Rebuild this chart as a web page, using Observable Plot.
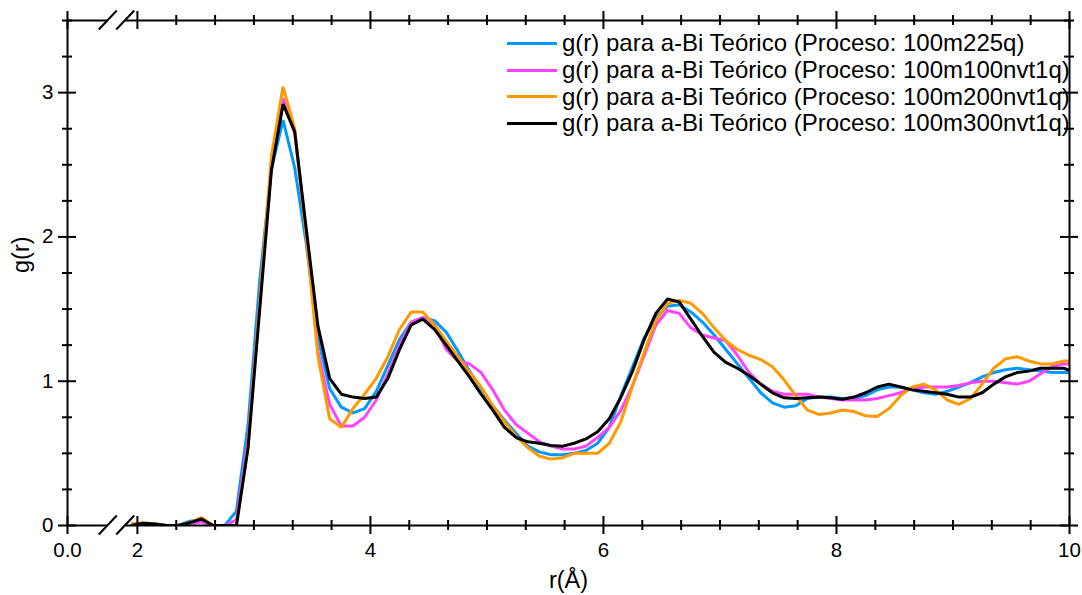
<!DOCTYPE html>
<html><head><meta charset="utf-8">
<script src="https://cdn.jsdelivr.net/npm/d3@7"></script>
<script src="https://cdn.jsdelivr.net/npm/@observablehq/plot@0.6"></script>
<style>
html,body{margin:0;padding:0;background:#fff;}
#wrap{position:relative;width:1082px;height:595px;font-family:"Liberation Sans",Arial,sans-serif;}
#legend{position:absolute;left:507px;top:30px;}
.row{display:flex;align-items:center;height:26.8px;}
.sw{width:50px;height:3px;margin-right:5px;}
.lab{font-size:24px;line-height:26.8px;white-space:nowrap;color:#000;}
</style></head>
<body><div id="wrap"><div id="legend"></div></div>
<script>
const r = [
1.95,2.05,2.15,2.25,2.35,2.45,2.55,2.65,2.75,2.85,
2.95,3.05,3.15,3.25,3.35,3.45,3.55,3.65,3.75,3.85,
3.95,4.05,4.15,4.25,4.35,4.45,4.55,4.65,4.75,4.85,
4.95,5.05,5.15,5.25,5.35,5.45,5.55,5.65,5.75,5.85,
5.95,6.05,6.15,6.25,6.35,6.45,6.55,6.65,6.75,6.85,
6.95,7.05,7.15,7.25,7.35,7.45,7.55,7.65,7.75,7.85,
7.95,8.05,8.15,8.25,8.35,8.45,8.55,8.65,8.75,8.85,
8.95,9.05,9.15,9.25,9.35,9.45,9.55,9.65,9.75,9.85,
9.95,10.05];

const g_100m225q = [
0.01,0.01,0.01,0,0,0.03,0.04,0,0,0.10,
0.70,1.70,2.47,2.81,2.48,1.95,1.30,0.95,0.82,0.78,
0.81,0.93,1.11,1.29,1.41,1.44,1.42,1.34,1.21,1.07,
0.95,0.83,0.73,0.64,0.55,0.51,0.49,0.49,0.50,0.52,
0.57,0.68,0.90,1.10,1.30,1.44,1.52,1.53,1.48,1.41,
1.32,1.22,1.12,1.02,0.92,0.85,0.82,0.83,0.88,0.89,
0.89,0.88,0.88,0.90,0.94,0.96,0.96,0.94,0.92,0.91,
0.93,0.96,0.99,1.03,1.06,1.08,1.09,1.08,1.07,1.06,
1.06,1.06];

const g_100m100nvt1q = [
0.01,0.01,0.005,0,0,0.01,0.025,0,0,0.04,
0.60,1.55,2.50,2.96,2.72,2.02,1.20,0.84,0.69,0.69,
0.75,0.87,1.05,1.25,1.41,1.44,1.39,1.22,1.14,1.12,
1.06,0.94,0.80,0.70,0.64,0.58,0.55,0.53,0.53,0.55,
0.61,0.68,0.80,0.97,1.18,1.39,1.49,1.47,1.37,1.32,
1.30,1.28,1.18,1.06,0.98,0.93,0.91,0.91,0.91,0.89,
0.88,0.87,0.87,0.87,0.88,0.90,0.92,0.95,0.96,0.96,
0.96,0.97,0.99,1.00,1.00,0.99,0.98,1.00,1.05,1.10,
1.12,1.12];

const g_100m200nvt1q = [
0.01,0.02,0.01,0,0,0.02,0.055,0,0,0,
0.55,1.55,2.56,3.04,2.75,2.00,1.17,0.74,0.68,0.81,
0.91,1.02,1.17,1.36,1.48,1.48,1.39,1.28,1.17,1.06,
0.96,0.83,0.72,0.62,0.54,0.48,0.46,0.47,0.50,0.50,
0.50,0.57,0.72,0.97,1.20,1.42,1.54,1.56,1.54,1.47,
1.37,1.28,1.22,1.18,1.15,1.10,1.01,0.90,0.80,0.77,
0.78,0.80,0.79,0.76,0.755,0.81,0.90,0.96,0.98,0.94,
0.87,0.84,0.88,0.98,1.09,1.155,1.17,1.14,1.12,1.12,
1.14,1.14];

const g_100m300nvt1q = [
0,0.015,0.01,0,0,0.02,0.045,0,0,0,
0.54,1.50,2.46,2.92,2.73,2.05,1.38,1.02,0.91,0.89,
0.88,0.89,1.02,1.22,1.39,1.43,1.36,1.25,1.14,1.03,
0.91,0.80,0.68,0.61,0.58,0.57,0.555,0.55,0.57,0.60,
0.65,0.74,0.89,1.07,1.29,1.47,1.57,1.55,1.43,1.31,
1.20,1.13,1.09,1.04,0.98,0.92,0.885,0.88,0.885,0.89,
0.885,0.875,0.89,0.92,0.96,0.98,0.96,0.94,0.93,0.92,
0.91,0.89,0.89,0.92,0.98,1.03,1.06,1.07,1.09,1.09,
1.09,1.06];

const seriesNames = [
  "g(r) para a-Bi Teórico (Proceso: 100m225q)",
  "g(r) para a-Bi Teórico (Proceso: 100m100nvt1q)",
  "g(r) para a-Bi Teórico (Proceso: 100m200nvt1q)",
  "g(r) para a-Bi Teórico (Proceso: 100m300nvt1q)"
];
const seriesColors = ["#0099ff", "#ff44ff", "#ff9900", "#000000"];
const seriesValues = [g_100m225q, g_100m100nvt1q, g_100m200nvt1q, g_100m300nvt1q];

// broken x axis: left edge is labelled 0.0, break, then 2..10
const xDomain = [1.4, 10];
const xBreak = [1.75, 1.9];
const xTickValues = [1.4, 2, 4, 6, 8, 10];
const xTickLabels = ["0.0", "2", "4", "6", "8", "10"];
const xMinorTicks = d3.range(1, 24).filter(k => k % 6 !== 0).map(k => 2 + k / 3);
const yDomain = [0, 3.5];
const yTickValues = [0, 1, 2, 3];
const yTickLabels = ["0", "1", "2", "3"];
const yMinorTicks = d3.range(1, 15).filter(k => k % 4 !== 0).map(k => k / 4);

const rows = [];
seriesValues.forEach((vals, k) => vals.forEach((g, i) => rows.push({r: r[i], g, series: seriesNames[k]})));

const W = 1082, H = 595, mL = 67, mR = 13, mT = 20, mB = 70;
const frameW = W - mL - mR, frameH = H - mT - mB;
const major = 9, minor = 5;
const ax = {stroke: "#000", strokeWidth: 2};

const chart = Plot.plot({
  width: W, height: H,
  marginLeft: mL, marginRight: mR, marginTop: mT, marginBottom: mB,
  x: {domain: xDomain, label: null, axis: null},
  y: {domain: yDomain, label: null, axis: null},
  color: {domain: seriesNames, range: seriesColors},
  style: {fontFamily: '"Liberation Sans", Arial, sans-serif', fontSize: "20px", color: "#000", background: "#fff", overflow: "visible"},
  marks: [
    Plot.line(rows, {x: "r", y: "g", z: "series", stroke: "series", strokeWidth: 3, strokeLinejoin: "miter", strokeLinecap: "butt", clip: true}),
    Plot.ruleX(xDomain, ax),
    Plot.ruleY(yDomain, {...ax, x1: xDomain[0], x2: xBreak[0]}),
    Plot.ruleY(yDomain, {...ax, x1: xBreak[1], x2: xDomain[1]}),
    Plot.ruleX(xTickValues, {...ax, insetTop: frameH - major, insetBottom: -major}),
    Plot.ruleX(xTickValues, {...ax, insetTop: -major, insetBottom: frameH - major}),
    Plot.ruleX(xMinorTicks, {...ax, insetTop: frameH - minor, insetBottom: -minor}),
    Plot.ruleX(xMinorTicks, {...ax, insetTop: -minor, insetBottom: frameH - minor}),
    Plot.ruleY(yTickValues, {...ax, insetLeft: -major, insetRight: frameW - major}),
    Plot.ruleY(yTickValues, {...ax, insetLeft: frameW - major, insetRight: -major}),
    Plot.ruleY(yMinorTicks, {...ax, insetLeft: -minor, insetRight: frameW - minor}),
    Plot.ruleY(yMinorTicks, {...ax, insetLeft: frameW - minor, insetRight: -minor}),
    Plot.text(xTickValues, {x: d => d, text: (d, i) => xTickLabels[i], frameAnchor: "bottom", dy: 25, lineAnchor: "middle", fontSize: 20.5, fill: "#000"}),
    Plot.text(yTickValues, {y: d => d, text: (d, i) => yTickLabels[i], frameAnchor: "left", dx: -14, textAnchor: "end", lineAnchor: "middle", fontSize: 20.5, fill: "#000"}),
    Plot.text(["r(Å)"], {text: d => d, frameAnchor: "bottom", dy: 55, lineAnchor: "middle", fontSize: 23.5, fill: "#000"}),
    Plot.text(["g(r)"], {text: d => d, frameAnchor: "left", dx: -46, rotate: -90, lineAnchor: "middle", fontSize: 23.5, fill: "#000"})
  ]
});

// axis-break slashes, placed through the plot's own scales
const sx = chart.scale("x"), sy = chart.scale("y");
const svg = d3.select(chart);
for (const yv of yDomain) for (const b of xBreak) {
  const px = sx.apply(b), py = sy.apply(yv);
  svg.append("line").attr("x1", px - 9).attr("y1", py + 9.5).attr("x2", px + 9).attr("y2", py - 9.5)
    .attr("stroke", "#000").attr("stroke-width", 2);
}

const wrap = document.getElementById("wrap");
wrap.insertBefore(chart, wrap.firstChild);
chart.style.position = "absolute"; chart.style.left = "0"; chart.style.top = "0";

const legend = document.getElementById("legend");
seriesNames.forEach((name, k) => {
  const row = document.createElement("div"); row.className = "row";
  const sw = document.createElement("div"); sw.className = "sw"; sw.style.background = seriesColors[k];
  const lab = document.createElement("span"); lab.className = "lab"; lab.textContent = name;
  row.appendChild(sw); row.appendChild(lab); legend.appendChild(row);
});
</script></body></html>
